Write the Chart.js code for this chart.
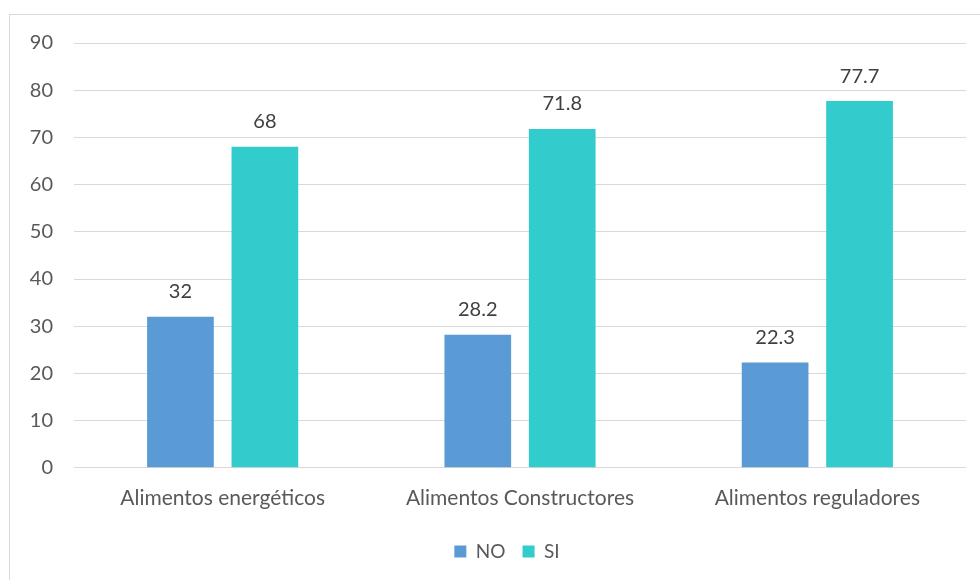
<!DOCTYPE html>
<html>
<head>
<meta charset="utf-8">
<script src="https://cdn.jsdelivr.net/npm/chart.js@4.4.1/dist/chart.umd.min.js"></script>
<style>
  html, body { margin: 0; padding: 0; background: #fff; }
  #wrap { position: relative; width: 980px; height: 580px; overflow: hidden; }
  #frame { position: absolute; left: 9px; top: 14px; width: 1000px; height: 600px; border: 1px solid #d9d9d9; box-sizing: border-box; }
  canvas { position: absolute; left: 0; top: 0; }
</style>
</head>
<body>
<div id="wrap">
  <div id="frame"></div>
  <canvas id="bar-chart" width="980" height="580"></canvas>
</div>
<script>
// datos del gráfico
const categorias = ["Alimentos energéticos", "Alimentos Constructores", "Alimentos reguladores"];
const valoresNo = [32, 28.2, 22.3];
const valoresSi = [68, 71.8, 77.7];
const coloresSeries = ["#5b9bd5", "#33cccc"];

// etiquetas de valor encima de cada barra
const etiquetasPlugin = {
    id: "etiquetas",
    afterDatasetsDraw(chart) {
        const ctx = chart.ctx;
        ctx.save();
        ctx.font = "20px Lato";
        ctx.fillStyle = "#404040";
        ctx.textAlign = "center";
        ctx.textBaseline = "middle";
        chart.data.datasets.forEach((ds, i) => {
            chart.getDatasetMeta(i).data.forEach((bar, j) => {
                ctx.fillText(String(ds.data[j]), bar.x, bar.y - 25);
            });
        });
        ctx.restore();
    }
};

// la leyenda queda un poco a la derecha del centro
const leyendaPlugin = {
    id: "leyendaDesplazada",
    afterLayout(chart) {
        if (!chart.legend) return;
        chart.legend.left += 24;
        chart.legend.right += 24;
    }
};

new Chart(document.getElementById("bar-chart"), {
    type: "bar",
    data: {
        labels: categorias,
        datasets: [
            { label: "NO", data: valoresNo, backgroundColor: coloresSeries[0] },
            { label: "SI", data: valoresSi, backgroundColor: coloresSeries[1] }
        ]
    },
    options: {
        responsive: false,
        animation: false,
        layout: { padding: { top: 43, right: 14, bottom: 9, left: 0 } },
        datasets: { bar: { categoryPercentage: 0.568, barPercentage: 0.79 } },
        scales: {
            x: {
                afterFit: scale => { scale.height += 4; },
                grid: { display: false },
                border: { display: false },
                ticks: { font: { family: "Lato", size: 21 }, color: "#595959", padding: 10 }
            },
            y: {
                min: 0, max: 90,
                afterFit: scale => { scale.width = 74; },
                grid: { color: "#d9d9d9", drawTicks: false },
                border: { display: false },
                ticks: { stepSize: 10, font: { family: "Lato", size: 20 }, color: "#595959", padding: 21 }
            }
        },
        plugins: {
            tooltip: { enabled: false },
            legend: {
                position: "bottom",
                labels: { boxWidth: 12, boxHeight: 12, padding: 17, font: { family: "Lato", size: 19 }, color: "#595959" }
            }
        }
    },
    plugins: [etiquetasPlugin, leyendaPlugin]
});
</script>
</body>
</html>
